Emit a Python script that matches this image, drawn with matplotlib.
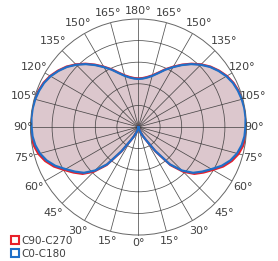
import matplotlib
matplotlib.use("Agg")
import matplotlib.pyplot as plt
import numpy as np
from matplotlib.lines import Line2D

# gamma angles (deg) and relative intensity, one half-plane
angles = [0, 5, 10, 15, 20, 25, 30, 35, 40, 45, 50, 55, 60, 65, 70, 75, 80, 85, 90,
          95, 100, 105, 110, 115, 120, 125, 130, 135, 140, 145, 150, 155, 160, 165,
          170, 175, 180]
c0_c180 = [0.0, 0.0, 0.01, 0.02, 0.05, 0.09, 0.14, 0.27, 0.45, 0.57, 0.66, 0.72, 0.78,
           0.85, 0.905, 0.945, 0.97, 0.985, 0.99, 0.995, 0.995, 0.99, 0.98, 0.965,
           0.94, 0.905, 0.865, 0.815, 0.76, 0.70, 0.64, 0.585, 0.53, 0.49, 0.465,
           0.45, 0.445]
c90_c270 = [0.0, 0.0, 0.01, 0.02, 0.05, 0.09, 0.145, 0.28, 0.46, 0.585, 0.675, 0.735,
            0.795, 0.865, 0.92, 0.96, 0.985, 0.995, 1.0, 1.0, 1.0, 0.995, 0.985, 0.97,
            0.945, 0.91, 0.87, 0.82, 0.765, 0.705, 0.645, 0.59, 0.535, 0.495, 0.47,
            0.455, 0.45]
tick_angles = list(range(0, 360, 15))

RED = "#e8202a"
BLUE = "#1f6fc8"
FILL = "#dcc7cd"
GRID = "#333333"


def full_curve(vals):
    a = np.array(angles, dtype=float)
    v = np.array(vals, dtype=float)
    th = np.concatenate([a, 360 - a[::-1]])
    r = np.concatenate([v, v[::-1]])
    return np.deg2rad(th), r


fig = plt.figure(figsize=(2.78, 2.61), dpi=100)
ax = fig.add_axes([0.1097, 0.0996, 0.777, 0.8276], projection="polar")
ax.set_theta_zero_location("S")
ax.set_ylim(0, 1.0)

th_r, r_r = full_curve(c90_c270)
th_b, r_b = full_curve(c0_c180)
ax.fill(th_r, r_r, color=FILL, zorder=0.5, linewidth=0)
ax.plot(th_r, r_r, color=RED, linewidth=1.6, zorder=2)
ax.plot(th_b, r_b, color=BLUE, linewidth=1.6, zorder=3)

ax.set_rgrids([0.2, 0.4, 0.6, 0.8], labels=[])
ax.set_thetagrids(tick_angles, labels=[])
ax.grid(True, color=GRID, linewidth=0.55, alpha=0.85)
ax.spines["polar"].set_color("#666666")
ax.spines["polar"].set_linewidth(0.7)
ax.tick_params(length=0)

for t in tick_angles:
    lab = t if t <= 180 else 360 - t
    rad = np.deg2rad(t)
    rr = 1.07 + 0.05 * abs(np.sin(2 * rad))
    ax.text(rad, rr, f"{lab}°", ha="center", va="center",
            fontsize=8, color="#404040", clip_on=False)

handles = [
    Line2D([], [], linestyle="", marker="s", markersize=5.5, markerfacecolor="white",
           markeredgecolor=RED, markeredgewidth=1.5, label="C90-C270"),
    Line2D([], [], linestyle="", marker="s", markersize=5.5, markerfacecolor="white",
           markeredgecolor=BLUE, markeredgewidth=1.5, label="C0-C180"),
]
fig.legend(handles=handles, loc="lower left", bbox_to_anchor=(0.015, -0.02),
           frameon=False, fontsize=7.5, handlelength=0.6, handletextpad=0.35,
           labelspacing=0.3, labelcolor="#404040", borderpad=0.2)

fig.savefig("out.png", dpi=100)
